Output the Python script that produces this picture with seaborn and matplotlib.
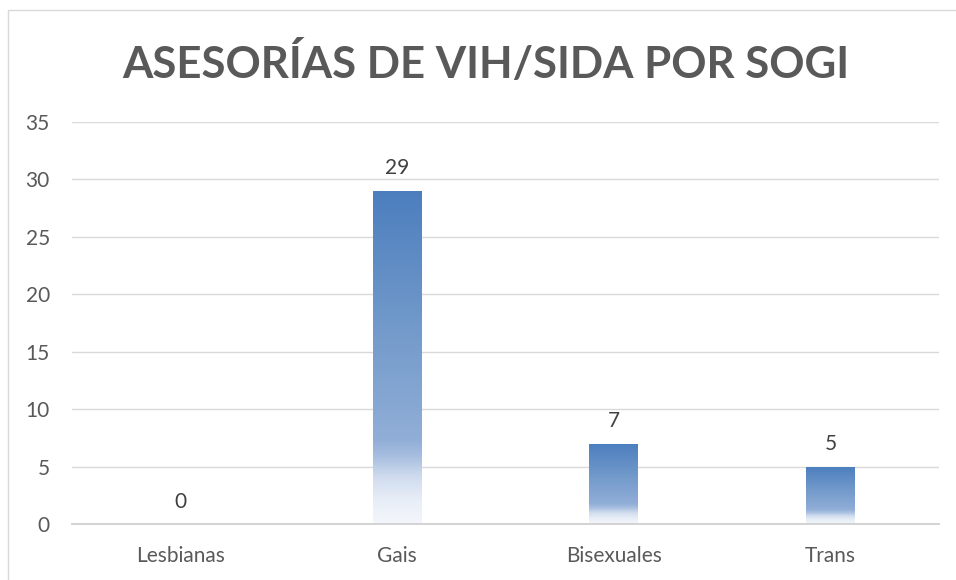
import numpy as np
import pandas as pd
import matplotlib
matplotlib.use("Agg")
import matplotlib.pyplot as plt
from matplotlib.colors import LinearSegmentedColormap
from matplotlib.lines import Line2D
import seaborn as sns

# Data
categories = ["Lesbianas", "Gais", "Bisexuales", "Trans"]
values = [0, 29, 7, 5]
title = "ASESORÍAS DE VIH/SIDA POR SOGI"

df = pd.DataFrame({"grupo": categories, "n": values})

sns.set_theme(style="white")
plt.rcParams["font.family"] = ["Lato", "DejaVu Sans"]

fig = plt.figure(figsize=(9.56, 5.8), dpi=100)
ax = fig.add_axes([72 / 956, 56 / 580, (939 - 72) / 956, (524 - 122) / 580])

sns.barplot(data=df, x="grupo", y="n", ax=ax, width=0.226, color="#4F81BD")
ax.set_ylim(0, 35)
ax.set_xlim(-0.5, 3.5)
ax.set_yticks(range(0, 36, 5))
ax.set_xlabel("")
ax.set_ylabel("")

# gradient fill inside each bar (dark blue top -> white bottom)
grad = LinearSegmentedColormap.from_list("g", [
    (0.0, "#F3F6FB"), (0.07, "#E8EEF7"), (0.14, "#D0DCEE"),
    (0.20, "#A8BFE0"), (0.25, "#91AED7"), (0.6, "#7199CA"), (1.0, "#4C7EBE")])
for p in ax.patches:
    h = p.get_height()
    if h <= 0:
        continue
    x0 = p.get_x()
    w = p.get_width()
    img = np.linspace(0, 1, 256).reshape(-1, 1)
    im = ax.imshow(img, cmap=grad, origin="lower", aspect="auto",
                   extent=[x0, x0 + w, 0, h], zorder=2)
    im.set_clip_path(p)
    p.set_facecolor("none")
    p.set_edgecolor("none")

ax.set_xlim(-0.5, 3.5)
ax.set_ylim(0, 35)

for i, v in enumerate(values):
    ax.annotate(str(v), (i, v), xytext=(0, 9), textcoords="offset points",
                ha="center", va="bottom", fontsize=15, color="#404040")

ax.yaxis.grid(True, color="#D9D9D9", linewidth=1)
ax.set_axisbelow(True)
for s in ["left", "right", "top"]:
    ax.spines[s].set_visible(False)
ax.spines["bottom"].set_color("#D0D0D0")
ax.spines["bottom"].set_linewidth(1.3)
ax.tick_params(axis="both", length=0, labelsize=15, labelcolor="#595959")
ax.tick_params(axis="y", pad=16)
ax.tick_params(axis="x", pad=16)

fig.text(486 / 956, 1 - 63 / 580, title, ha="center", va="center",
         fontsize=31.5, fontweight="bold", color="#595959")

# chart frame (top and left edges visible)
fig.add_artist(Line2D([8 / 956, 1], [1 - 10 / 580] * 2, transform=fig.transFigure,
                      color="#D9D9D9", linewidth=1))
fig.add_artist(Line2D([8 / 956] * 2, [0, 1 - 10 / 580], transform=fig.transFigure,
                      color="#D9D9D9", linewidth=1))

fig.savefig("out.png", dpi=100)
